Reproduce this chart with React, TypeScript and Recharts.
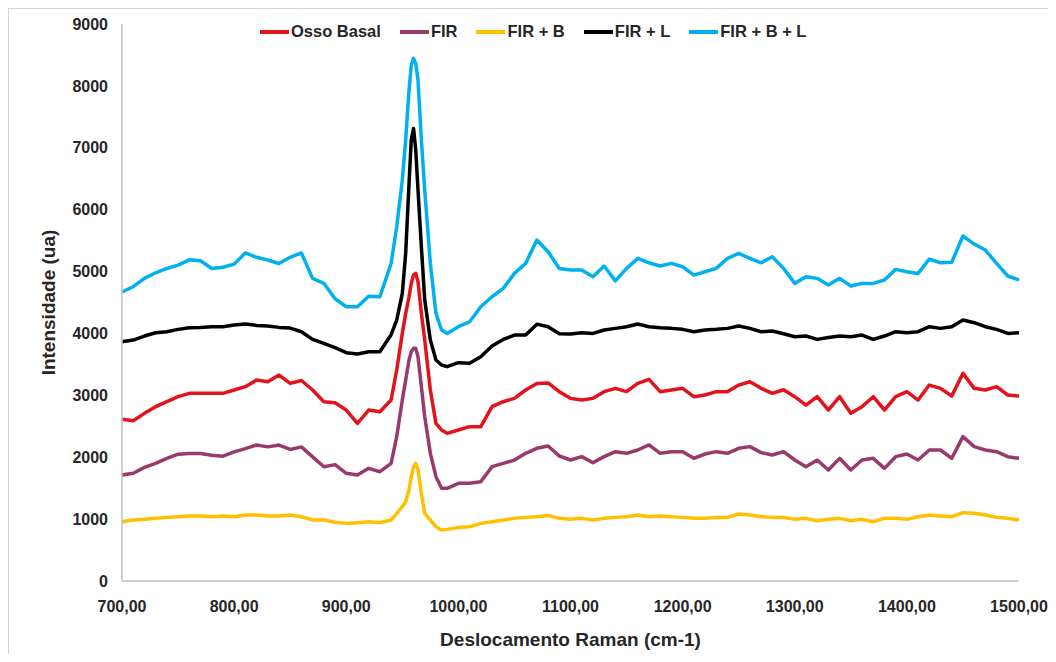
import { LineChart, Line, XAxis, YAxis, Label } from 'recharts';

// Raman shift (cm-1), denser around the 960 peak
const ramanShift = [
  700, 710, 720, 730, 740, 750, 760, 770, 780, 790,
  800, 810, 820, 830, 840, 850, 860, 870, 880, 890,
  900, 910, 920, 930, 940,
  945, 950, 953, 956, 958, 960, 962, 964, 967, 970, 975, 980, 985, 990,
  1000, 1010, 1020, 1030, 1040, 1050, 1060, 1070, 1080, 1090,
  1100, 1110, 1120, 1130, 1140, 1150, 1160, 1170, 1180, 1190,
  1200, 1210, 1220, 1230, 1240, 1250, 1260, 1270, 1280, 1290,
  1300, 1310, 1320, 1330, 1340, 1350, 1360, 1370, 1380, 1390,
  1400, 1410, 1420, 1430, 1440, 1450, 1460, 1470, 1480, 1490,
  1500,
];

const ossoBasal = [
  2612, 2590, 2709, 2817, 2897, 2978, 3032, 3032, 3032, 3032,
  3086, 3140, 3247, 3220, 3328, 3194, 3240, 3086, 2897, 2880,
  2763, 2547, 2763, 2736, 2925,
  3409, 4001, 4324, 4593, 4809, 4944, 4971, 4836, 4324, 3893, 3086, 2547, 2440, 2386,
  2440, 2494, 2494, 2817, 2897, 2951, 3086, 3193, 3200, 3059,
  2951, 2924, 2951, 3059, 3113, 3059, 3194, 3258, 3059, 3086,
  3113, 2978, 3005, 3059, 3059, 3166, 3220, 3113, 3032, 3090,
  2978, 2843, 2978, 2763, 2978, 2709, 2817, 2978, 2763, 2978,
  3059, 2924, 3166, 3113, 2989, 3355, 3113, 3086, 3140, 3005,
  2989,
];

const fir = [
  1712, 1740, 1836, 1900, 1981, 2049, 2060, 2060, 2033, 2017,
  2087, 2140, 2197, 2167, 2197, 2125, 2167, 2006, 1846, 1880,
  1740, 1713, 1820, 1766, 1900,
  2332, 2924, 3247, 3570, 3705, 3759, 3759, 3624, 3140, 2655, 2063, 1686, 1500, 1497,
  1578, 1578, 1605, 1847, 1900, 1954, 2063, 2144, 2181, 2020,
  1955, 2009, 1912, 2009, 2090, 2063, 2117, 2198, 2063, 2090,
  2090, 1982, 2052, 2090, 2063, 2144, 2171, 2074, 2036, 2090,
  1955, 1847, 1955, 1793, 1982, 1793, 1955, 1982, 1820, 2009,
  2052, 1955, 2117, 2117, 1982, 2332, 2171, 2117, 2090, 2009,
  1982,
];

const firB = [
  958, 985, 996, 1012, 1028, 1039, 1050, 1050, 1039, 1050,
  1039, 1066, 1066, 1050, 1050, 1066, 1039, 985, 985, 950,
  931, 942, 958, 942, 985,
  1093, 1201, 1282, 1470, 1686, 1847, 1900, 1793, 1416, 1093, 985, 877, 824, 834,
  866, 877, 931, 958, 985, 1012, 1028, 1039, 1060, 1012,
  996, 1012, 985, 1012, 1028, 1039, 1066, 1039, 1050, 1039,
  1028, 1012, 1012, 1028, 1028, 1082, 1066, 1039, 1028, 1028,
  996, 1012, 974, 996, 1012, 974, 996, 958, 1012, 1012,
  996, 1039, 1066, 1050, 1039, 1104, 1093, 1066, 1028, 1012,
  985,
];

const firL = [
  3866, 3893, 3958, 4012, 4028, 4066, 4093, 4098, 4109, 4109,
  4136, 4152, 4130, 4120, 4098, 4087, 4028, 3904, 3839, 3770,
  3689, 3667, 3705, 3705, 3980,
  4216, 4647, 5293, 6424, 7130, 7313, 6963, 6317, 5400, 4540, 3893, 3570, 3490, 3463,
  3527, 3517, 3624, 3796, 3904, 3974, 3974, 4150, 4109, 3995,
  3990, 4012, 4001, 4055, 4082, 4109, 4152, 4109, 4093, 4082,
  4066, 4028, 4055, 4066, 4082, 4120, 4082, 4028, 4039, 3995,
  3947, 3958, 3904, 3936, 3958, 3947, 3974, 3904, 3958, 4028,
  4012, 4028, 4109, 4082, 4109, 4217, 4174, 4109, 4066, 4001,
  4012,
];

const firBL = [
  4670, 4755, 4890, 4980, 5050, 5105, 5190, 5175, 5050, 5070,
  5120, 5300, 5230, 5186, 5130, 5230, 5300, 4890, 4810, 4560,
  4432, 4432, 4600, 4593, 5130,
  5724, 6478, 7130, 7932, 8336, 8444, 8360, 8094, 7130, 6317, 5132, 4324, 4055, 4001,
  4109, 4189, 4432, 4593, 4728, 4970, 5132, 5509, 5320, 5050,
  5024, 5024, 4917, 5089, 4850, 5051, 5213, 5142, 5089, 5132,
  5078, 4943, 4997, 5051, 5213, 5293, 5213, 5142, 5240, 5051,
  4809, 4917, 4890, 4782, 4890, 4766, 4809, 4809, 4863, 5035,
  4997, 4970, 5202, 5142, 5150, 5574, 5444, 5347, 5132, 4928,
  4863,
];

const xTicks = [700, 800, 900, 1000, 1100, 1200, 1300, 1400, 1500];
const yTicks = [0, 1000, 2000, 3000, 4000, 5000, 6000, 7000, 8000, 9000];

const seriesList = [
  { key: 'osso', name: 'Osso Basal', values: ossoBasal, color: '#e3121b' },
  { key: 'fir', name: 'FIR', values: fir, color: '#993a6c' },
  { key: 'firB', name: 'FIR + B', values: firB, color: '#ffc000' },
  { key: 'firL', name: 'FIR + L', values: firL, color: '#000000' },
  { key: 'firBL', name: 'FIR + B + L', values: firBL, color: '#00b0f0' },
];

const data = ramanShift.map((x, i) => {
  const row: Record<string, number> = { x };
  seriesList.forEach(s => { row[s.key] = s.values[i]; });
  return row;
});

const font = 'Arial, "Liberation Sans", sans-serif';
const tickStyle = { fontFamily: font, fontSize: 16, fontWeight: 700, fill: '#262626' };

const fmtX = (v: number) => v.toFixed(2).replace('.', ',');

export default function App() {
  return (
    <div
      style={{
        position: 'relative',
        width: 1040,
        height: 646,
        boxSizing: 'border-box',
        borderLeft: '1px solid #d4d4d4',
        borderTop: '1px solid #d4d4d4',
        background: '#fff',
      }}
    >
      <div
        style={{
          position: 'absolute',
          top: 13,
          left: 251,
          display: 'flex',
          gap: 19,
          fontFamily: font,
          fontWeight: 700,
          fontSize: 16.5,
          color: '#262626',
          whiteSpace: 'nowrap',
          zIndex: 2,
        }}
      >
        {seriesList.map(s => (
          <div key={s.key} style={{ display: 'flex', alignItems: 'center' }}>
            <span style={{ display: 'inline-block', width: 29, height: 4, background: s.color, marginRight: 2 }} />
            <span>{s.name}</span>
          </div>
        ))}
      </div>
      <LineChart
        width={1039}
        height={645}
        data={data}
        margin={{ top: 15, right: 29, bottom: 0, left: 0 }}
      >
        <XAxis
          dataKey="x"
          type="number"
          domain={[700, 1500]}
          ticks={xTicks}
          tickFormatter={fmtX}
          interval={0}
          height={73}
          tickSize={0}
          tickMargin={20}
          tick={tickStyle}
          axisLine={{ stroke: '#bfbfbf', strokeWidth: 1.5 }}
        >
          <Label
            value="Deslocamento Raman (cm-1)"
            position="insideBottom"
            offset={8}
            style={{ fontFamily: font, fontSize: 19, fontWeight: 700, fill: '#262626' }}
          />
        </XAxis>
        <YAxis
          type="number"
          domain={[0, 9000]}
          ticks={yTicks}
          interval={0}
          width={113}
          tickSize={0}
          tickMargin={14}
          tick={tickStyle}
          axisLine={{ stroke: '#bfbfbf', strokeWidth: 1.5 }}
        >
          <Label
            value="Intensidade (ua)"
            angle={-90}
            position="insideLeft"
            offset={39}
            style={{ fontFamily: font, fontSize: 19, fontWeight: 700, fill: '#262626', textAnchor: 'middle' }}
          />
        </YAxis>
        {seriesList.map(s => (
          <Line
            key={s.key}
            dataKey={s.key}
            name={s.name}
            type="linear"
            stroke={s.color}
            strokeWidth={3.5}
            strokeLinejoin="round"
            dot={false}
            activeDot={false}
            isAnimationActive={false}
          />
        ))}
      </LineChart>
    </div>
  );
}
